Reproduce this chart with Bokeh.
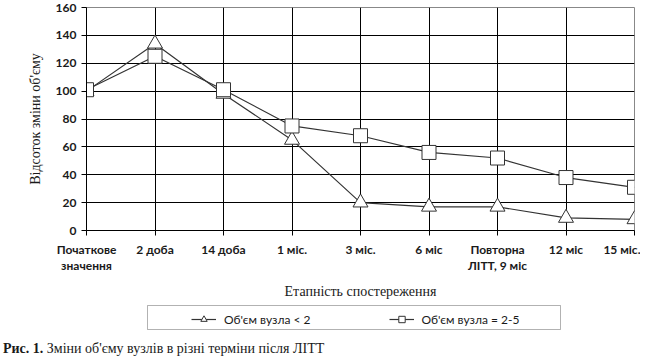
from bokeh.plotting import figure
from bokeh.models import Range1d, FixedTicker, Legend, LegendItem, Div, BoxAnnotation
from bokeh.layouts import column
from bokeh.embed import file_html
from bokeh.resources import INLINE

categories = ["Початкове\nзначення", "2 доба", "14 доба", "1 міс.", "3 міс.", "6 міс",
              "Повторна\nЛІТТ, 9 міс", "12 міс", "15 міс."]
series_small = [100, 134, 98, 65, 20, 17, 17, 9, 8]
series_mid = [101, 125, 101, 75, 68, 56, 52, 38, 31]
y_ticks = [0, 20, 40, 60, 80, 100, 120, 140, 160]
series_names = ["Об'єм вузла < 2", "Об'єм вузла = 2-5"]

xs = list(range(len(categories)))
LINE = "#333333"
TEXT = "#1a1a1a"

p = figure(width=640, height=300, output_backend="svg", toolbar_location=None,
           x_range=Range1d(0, len(categories) - 1), y_range=Range1d(0, 160),
           frame_width=548, frame_height=223,
           min_border_left=86, min_border_right=6, min_border_top=7, min_border_bottom=70)
p.background_fill_color = "white"
p.border_fill_color = "white"
p.outline_line_color = "#888888"
p.outline_line_width = 1

p.xaxis.ticker = FixedTicker(ticks=xs)
p.xaxis.major_label_overrides = {i: c for i, c in enumerate(categories)}
p.yaxis.ticker = FixedTicker(ticks=y_ticks)

for ax in (p.xaxis[0], p.yaxis[0]):
    ax.major_label_text_font = "Lato"
    ax.major_label_text_font_style = "bold"
    ax.major_label_text_font_size = "12px"
    ax.major_label_text_color = TEXT
    ax.major_label_text_line_height = 1.1
    ax.axis_line_color = "black"
    ax.major_tick_line_color = "black"
    ax.major_tick_out = 5
    ax.major_tick_in = 0
    ax.minor_tick_line_color = None
    ax.axis_label_text_font = "Liberation Serif"
    ax.axis_label_text_font_style = "normal"
    ax.axis_label_text_font_size = "14px"
    ax.axis_label_text_color = TEXT

p.yaxis.axis_label = "Відсоток зміни об'єму"
p.yaxis.axis_label_standoff = 10
p.yaxis.major_label_standoff = 5
p.xaxis.axis_label = "Етапність спостереження"
p.xaxis.axis_label_standoff = 8
p.xaxis.major_label_standoff = 6

p.xgrid.ticker = FixedTicker(ticks=xs)
p.ygrid.ticker = FixedTicker(ticks=y_ticks)
p.grid.grid_line_color = "black"
p.grid.grid_line_width = 1
p.grid.grid_line_alpha = 1

p.line(xs, series_small, line_color=LINE, line_width=1.2)
p.scatter(xs, series_small, marker="triangle", size=15, fill_color="white",
          line_color=LINE, line_width=1)
p.line(xs, series_mid, line_color=LINE, line_width=1.2)
p.scatter(xs, series_mid, marker="square", size=14, fill_color="white",
          line_color=LINE, line_width=1)

# legend strip: same horizontal borders as the chart so the column keeps them aligned
q = figure(width=640, height=34, output_backend="svg", toolbar_location=None,
           x_range=Range1d(0, 1), y_range=Range1d(1000, 1001),
           frame_width=548, frame_height=34,
           min_border_left=86, min_border_right=6, min_border_top=0, min_border_bottom=0)
q.axis.visible = False
q.grid.visible = False
q.outline_line_color = None
q.border_fill_color = "white"
q.background_fill_color = "white"

# legend proxies: same series, kept outside the strip's visible range
ql1 = q.line(xs, series_small, line_color=LINE, line_width=1.2)
qs1 = q.scatter(xs, series_small, marker="triangle", size=9, fill_color="white",
                line_color=LINE, line_width=1)
ql2 = q.line(xs, series_mid, line_color=LINE, line_width=1.2)
qs2 = q.scatter(xs, series_mid, marker="square", size=8, fill_color="white",
                line_color=LINE, line_width=1)

box = BoxAnnotation(left=61, right=474, bottom=7, top=31,
                    left_units="screen", right_units="screen",
                    bottom_units="screen", top_units="screen",
                    fill_color=None, line_color="black", line_width=1)
q.add_layout(box)

legend = Legend(items=[LegendItem(label=series_names[0], renderers=[ql1, qs1]),
                       LegendItem(label=series_names[1], renderers=[ql2, qs2])],
                orientation="horizontal", location=(105, 9))
legend.label_text_font = "Lato"
legend.label_text_font_size = "12px"
legend.label_text_color = TEXT
legend.border_line_color = None
legend.background_fill_alpha = 0
legend.padding = 2
legend.margin = 0
legend.spacing = 78
legend.glyph_width = 25
legend.glyph_height = 16
legend.label_standoff = 8
legend.label_height = 16
q.add_layout(legend, "center")

caption = Div(text="<b>Рис. 1.</b> Зміни об'єму вузлів в різні терміни після ЛІТТ",
              width=640, height=26, margin=(0, 0, 0, 0),
              styles={"font-family": "Liberation Serif", "font-size": "14px",
                      "color": TEXT, "line-height": "16px", "padding-top": "5px",
                      "padding-left": "3px"})

open("out.html", "w").write(file_html(column(p, q, caption, spacing=0), INLINE))
